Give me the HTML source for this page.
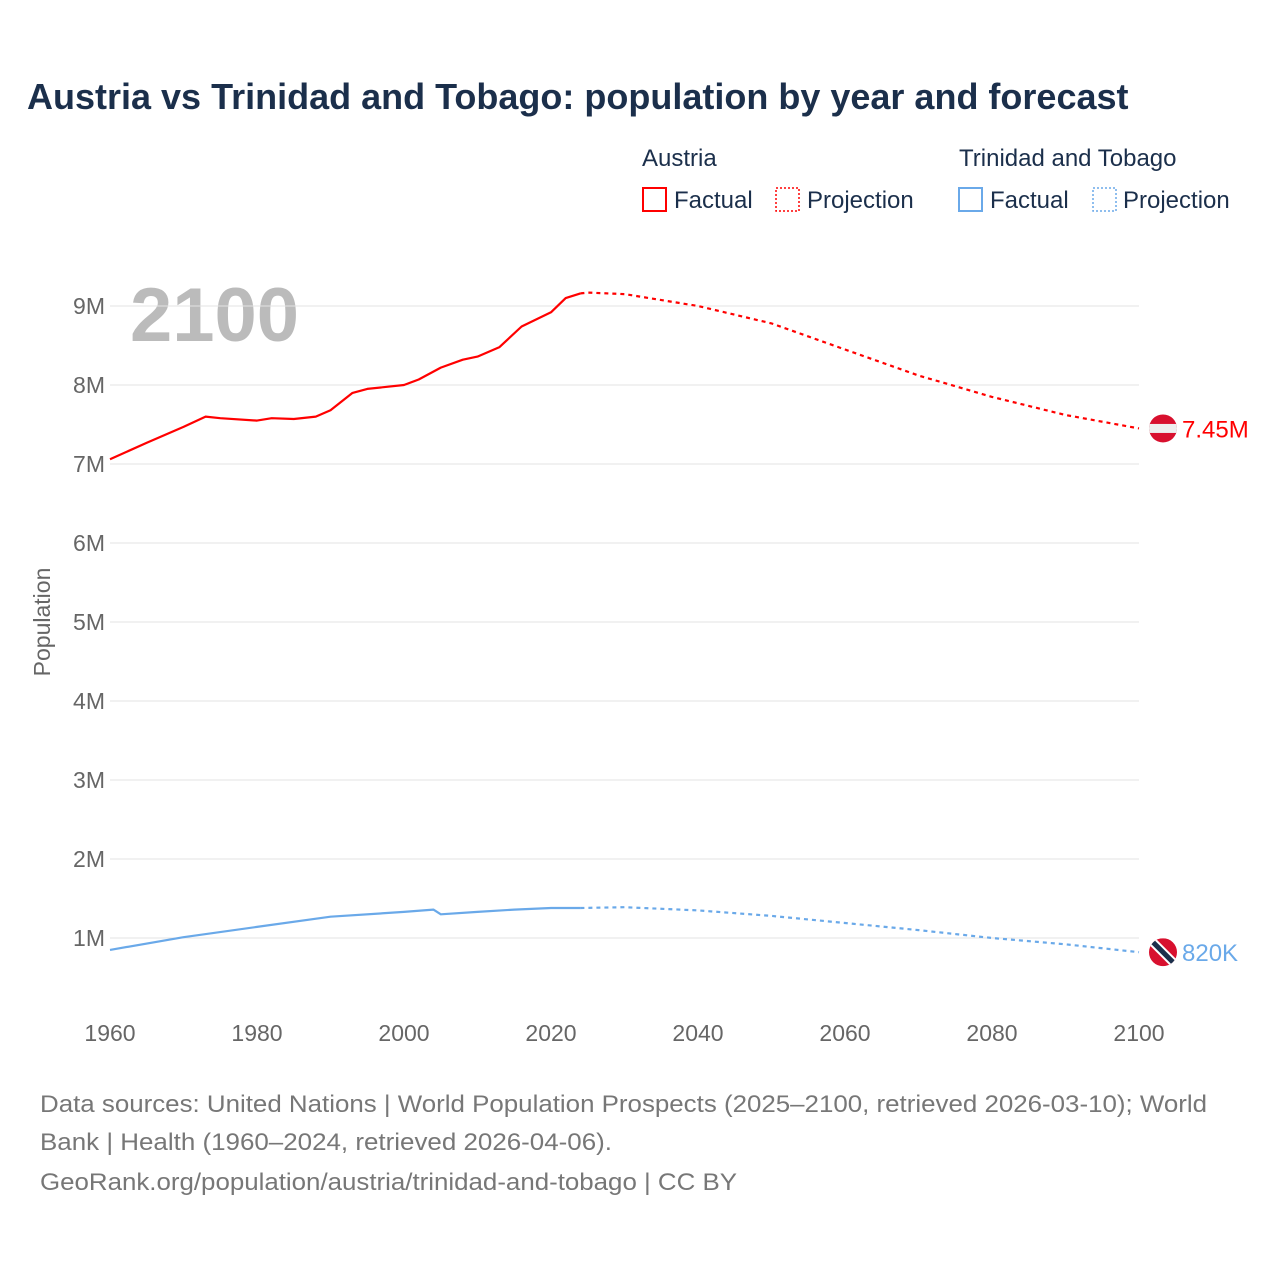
<!DOCTYPE html>
<html><head><meta charset="utf-8"><style>
body{margin:0;background:#fff;font-family:"Liberation Sans",sans-serif}
svg text{font-family:"Liberation Sans",sans-serif}
</style></head><body>
<svg id="c" width="1280" height="1280" viewBox="0 0 1280 1280">
<text x="27" y="109" font-size="36" font-weight="bold" fill="#1b2f4b">Austria vs Trinidad and Tobago: population by year and forecast</text>
<g>
<text x="642" y="166" font-size="24" fill="#1b2f4b">Austria</text>
<rect x="643" y="188" width="23" height="23" fill="none" stroke="#f00" stroke-width="2"/>
<text x="674" y="208" font-size="24" fill="#1b2f4b">Factual</text>
<rect x="776" y="188" width="23" height="23" fill="none" stroke="#f00" stroke-width="1.5" stroke-dasharray="2,2"/>
<text x="807" y="208" font-size="24" fill="#1b2f4b">Projection</text>
<text x="959" y="166" font-size="24" fill="#1b2f4b">Trinidad and Tobago</text>
<rect x="959" y="188" width="23" height="23" fill="none" stroke="#6aa9e9" stroke-width="2"/>
<text x="990" y="208" font-size="24" fill="#1b2f4b">Factual</text>
<rect x="1093" y="188" width="23" height="23" fill="none" stroke="#6aa9e9" stroke-width="1.5" stroke-dasharray="2,2"/>
<text x="1123" y="208" font-size="24" fill="#1b2f4b">Projection</text>
</g>
<text x="130" y="341" font-size="76" font-weight="bold" fill="#bbbbbb">2100</text>
<text transform="translate(50,622) rotate(-90)" text-anchor="middle" font-size="23" fill="#666">Population</text>
<g id="grid"></g><g id="lines"></g><g id="marks"></g>
<g font-size="24" fill="#777">
<text x="40" y="1112" textLength="1167" lengthAdjust="spacingAndGlyphs">Data sources: United Nations | World Population Prospects (2025–2100, retrieved 2026-03-10); World</text>
<text x="40" y="1150" textLength="572" lengthAdjust="spacingAndGlyphs">Bank | Health (1960–2024, retrieved 2026-04-06).</text>
<text x="40" y="1190" textLength="697" lengthAdjust="spacingAndGlyphs">GeoRank.org/population/austria/trinidad-and-tobago | CC BY</text>
</g>
</svg>
<script>
const yTicks=[1,2,3,4,5,6,7,8,9];
const xTicks=[1960,1980,2000,2020,2040,2060,2080,2100];
const atYears=[1960,1965,1970,1973,1975,1980,1982,1985,1988,1990,1993,1995,2000,2002,2005,2008,2010,2013,2016,2020,2022,2024];
const atVals=[7.06,7.27,7.47,7.6,7.58,7.55,7.58,7.57,7.6,7.68,7.9,7.95,8.0,8.07,8.22,8.32,8.36,8.48,8.74,8.92,9.1,9.16];
const atProjYears=[2024,2025,2030,2040,2050,2060,2070,2080,2090,2100];
const atProjVals=[9.16,9.17,9.15,9.0,8.78,8.45,8.12,7.85,7.62,7.45];
const ttYears=[1960,1970,1980,1990,2000,2004,2005,2010,2015,2020,2024];
const ttVals=[0.85,1.01,1.14,1.27,1.33,1.36,1.30,1.33,1.36,1.38,1.38];
const ttProjYears=[2024,2030,2040,2050,2060,2070,2080,2090,2100];
const ttProjVals=[1.38,1.39,1.35,1.28,1.19,1.1,1.0,0.92,0.82];
const NS='http://www.w3.org/2000/svg';
const X=y=>110+(y-1960)*(1029/140);
const Y=v=>1017-v*79;
function mk(t,a,p){const e=document.createElementNS(NS,t);for(const k in a)e.setAttribute(k,a[k]);document.getElementById(p).appendChild(e);return e;}
yTicks.forEach(v=>{
 const l=mk('line',{x1:110,x2:1139,y1:Y(v),y2:Y(v),stroke:'#e3e3e3','stroke-width':1},'grid');
 
 
 const t=mk('text',{x:105,y:Y(v)+8,'text-anchor':'end','font-size':23,fill:'#666'},'grid');
 t.textContent=v+'M';
 
 
});
xTicks.forEach(v=>{
 const t=mk('text',{x:X(v),y:1041,'text-anchor':'middle','font-size':23,fill:'#666'},'grid');
 t.textContent=v;
 
 
});
function line(ys,vs,col,dash,name){
 const d=ys.map((y,i)=>(i?'L':'M')+X(y).toFixed(1)+','+Y(vs[i]).toFixed(1)).join('');
 const p=mk('path',{d:d,fill:'none',stroke:col,'stroke-width':2.2,'stroke-linejoin':'round','stroke-dasharray':dash||'none'},'lines');
 
 
}
line(atYears,atVals,'#ff0000','', 'austria-factual-line');
line(atProjYears,atProjVals,'#ff0000','4,4','austria-projection-line');
line(ttYears,ttVals,'#6aa9e9','', 'tt-factual-line');
line(ttProjYears,ttProjVals,'#6aa9e9','4,4','tt-projection-line');
const ay=Y(atProjVals[atProjVals.length-1]), ty=Y(ttProjVals[ttProjVals.length-1]);
mk('defs',{},'marks').innerHTML='<clipPath id="ca"><circle cx="1163" cy="'+ay+'" r="14"/></clipPath><clipPath id="ct"><circle cx="1163" cy="'+ty+'" r="14"/></clipPath>';
const fa=mk('g',{'clip-path':'url(#ca)'},'marks');


fa.innerHTML='<rect x="1149" y="'+(ay-14)+'" width="28" height="28" fill="#d8102e"/><rect x="1149" y="'+(ay-4.5)+'" width="28" height="9" fill="#eee"/>';
const ft=mk('g',{'clip-path':'url(#ct)'},'marks');


ft.innerHTML='<rect x="1149" y="'+(ty-14)+'" width="28" height="28" fill="#d8102e"/><line x1="1149" y1="'+(ty-14)+'" x2="1177" y2="'+(ty+14)+'" stroke="#fff" stroke-width="9"/><line x1="1149" y1="'+(ty-14)+'" x2="1177" y2="'+(ty+14)+'" stroke="#1b2f4b" stroke-width="5"/>';
const la=mk('text',{x:1182,y:ay+9,'font-size':24,fill:'#ff0000'},'marks');
la.textContent=atProjVals[atProjVals.length-1].toFixed(2)+'M';


const lt=mk('text',{x:1182,y:ty+9,'font-size':24,fill:'#6aa9e9'},'marks');
lt.textContent=Math.round(ttProjVals[ttProjVals.length-1]*1000)+'K';


</script>
</body></html>
